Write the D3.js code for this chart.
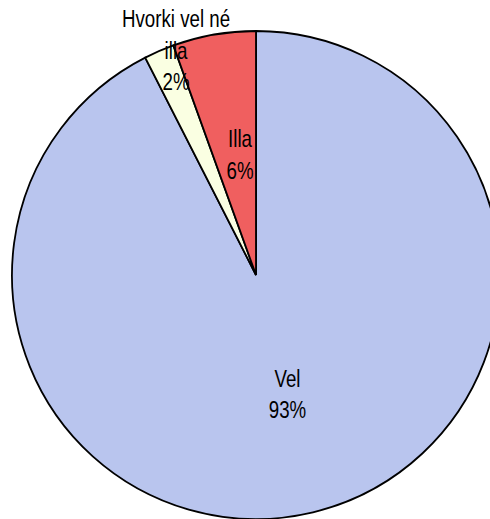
<!DOCTYPE html>
<html><head><meta charset="utf-8">
<script src="https://cdn.jsdelivr.net/npm/d3@7"></script>
<style>
html,body{margin:0;padding:0;background:#fff;}
svg{display:block;}
text{font-family:"Liberation Sans Narrow","Arial Narrow","Liberation Sans",Arial,sans-serif;font-size:24px;fill:#000;}
</style></head>
<body>
<svg id="chart" width="490" height="519"></svg>
<script>
const categories = ["Vel", "Hvorki vel né illa", "Illa"];
const values = [92.5, 2.0, 5.5];
const labelLines = [["Vel"], ["Hvorki vel né", "illa"], ["Illa"]];
const colors = ["#B9C5EE", "#FAFFE2", "#F05F5F"];

const svg = d3.select("#chart");
const cx = 256, cy = 275, R = 244;
const g = svg.append("g").attr("transform", `translate(${cx},${cy})`);

const total = d3.sum(values);
const pie = d3.pie().sort(null).value(d => d)(values);
const arc = d3.arc().innerRadius(0).outerRadius(R);

g.selectAll("path").data(pie).enter().append("path")
  .attr("d", arc)
  .attr("fill", (d, i) => colors[i])
  .attr("stroke", "#000")
  .attr("stroke-width", 1.8)
  .attr("stroke-linejoin", "miter");

// label placement (Excel-like best fit)
const radFactor = [0.5, 0.97, 0.5];
const nudge = [[3, 1], [14, -7], [5, 0]];
const lineH = 31.5;
pie.forEach((d, i) => {
  const a = (d.startAngle + d.endAngle) / 2;
  const r = R * radFactor[i];
  const x = r * Math.sin(a) + nudge[i][0], y = -r * Math.cos(a) + nudge[i][1];
  const lines = labelLines[i].concat([Math.round(values[i] / total * 100) + "%"]);
  const n = lines.length;
  const t = g.append("text").attr("text-anchor", "middle")
    .attr("transform", `translate(${x},${y}) scale(0.78,1)`);
  lines.forEach((ln, j) => {
    t.append("tspan").attr("x", 0)
     .attr("y", (j - (n - 1) / 2) * lineH + 8)
     .text(ln);
  });
});
</script>
</body></html>
